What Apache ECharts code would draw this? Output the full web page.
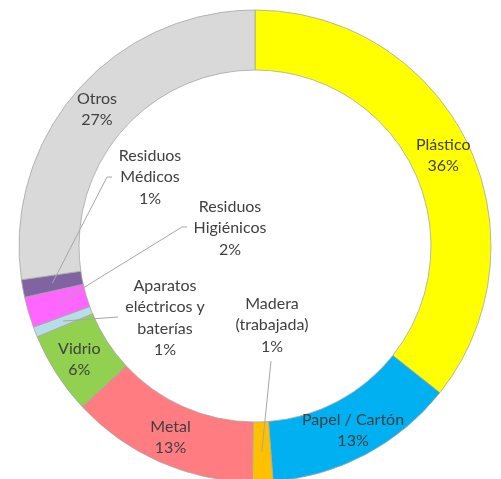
<!DOCTYPE html>
<html>
<head>
<meta charset="utf-8">
<script src="https://cdn.jsdelivr.net/npm/echarts@6/dist/echarts.min.js"></script>
<style>
  html, body { margin: 0; padding: 0; background: #fff; }
  #chart { width: 501px; height: 479px; }
</style>
</head>
<body>
<div id="chart"></div>
<script>
// data (clockwise from 12 o'clock)
const categories = ['Plástico', 'Papel / Cartón', 'Madera\n(trabajada)', 'Metal', 'Vidrio',
  'Aparatos\neléctricos y\nbaterías', 'Residuos\nHigiénicos', 'Residuos\nMédicos', 'Otros']
const shares = [35.7, 13.1, 1.4, 12.9, 5.65, 0.7, 2.1, 1.2, 27.3]
const sliceColors = ['#FFFF00', '#00B0F0', '#FFC000', '#FF7C80', '#92D050',
  '#B7DEE8', '#FF66FF', '#8064A2', '#D9D9D9']

// layout of the ring
const CX = 255, CY = 246, R_IN = 176, R_OUT = 236

// small slices get a callout label placed inside the hole
const callouts = {
  2: { x: 272, y: 325, tail: [[271, 361], [271, 361]] },
  5: { x: 165, y: 318, tail: [[118, 317], [118, 317]] },
  6: { x: 230, y: 228, tail: [[182, 227], [187, 227]] },
  7: { x: 150, y: 177, tail: [[107, 177], [112, 177]] }
}

const total = shares.reduce((a, b) => a + b, 0)
// point in the middle of the ring at the slice's mid angle
function anchorOf(i) {
  let before = 0
  for (let k = 0; k < i; k++) before += shares[k]
  const a = (before + shares[i] / 2) / total * Math.PI * 2
  const r = (R_IN + R_OUT) / 2
  return [CX + r * Math.sin(a), CY - r * Math.cos(a)]
}

const labelStyle = {
  color: '#404040',
  fontFamily: 'Lato',
  fontSize: 16,
  lineHeight: 21.5,
  align: 'center',
  formatter: p => `${p.name}\n${Math.round(p.percent)}%`
}

const chart = echarts.init(document.getElementById('chart'))

// ring + labels of the big slices
const ringData = categories.map((name, i) => ({
  name, value: shares[i],
  itemStyle: { color: sliceColors[i] },
  label: { show: !callouts[i] }
}))

// same slices, invisible, only to carry the callouts above the ring
const calloutData = categories.map((name, i) => ({
  name, value: shares[i],
  label: { show: !!callouts[i] },
  labelLine: { show: !!callouts[i] }
}))

chart.setOption({
  animation: false,
  series: [{
    type: 'pie',
    z: 2,
    startAngle: 90,
    clockwise: true,
    center: [CX, CY],
    radius: [R_IN, R_OUT],
    emphasis: { disabled: true },
    itemStyle: { borderColor: '#a6a6a6', borderWidth: 0.8 },
    label: Object.assign({ position: 'inside' }, labelStyle),
    labelLine: { show: false },
    data: ringData
  }, {
    type: 'pie',
    z: 5,
    silent: true,
    startAngle: 90,
    clockwise: true,
    center: [CX, CY],
    radius: [R_IN, R_OUT],
    avoidLabelOverlap: false,
    emphasis: { disabled: true },
    itemStyle: { color: 'rgba(0,0,0,0)', borderWidth: 0 },
    label: Object.assign({ position: 'outside' }, labelStyle),
    labelLine: { lineStyle: { color: '#a6a6a6', width: 1 } },
    labelLayout: params => {
      const c = callouts[params.dataIndex]
      if (!c) return {}
      return {
        x: c.x, y: c.y,
        align: 'center', verticalAlign: 'middle',
        labelLinePoints: [anchorOf(params.dataIndex), c.tail[0], c.tail[1]]
      }
    },
    data: calloutData
  }]
})
</script>
</body>
</html>
